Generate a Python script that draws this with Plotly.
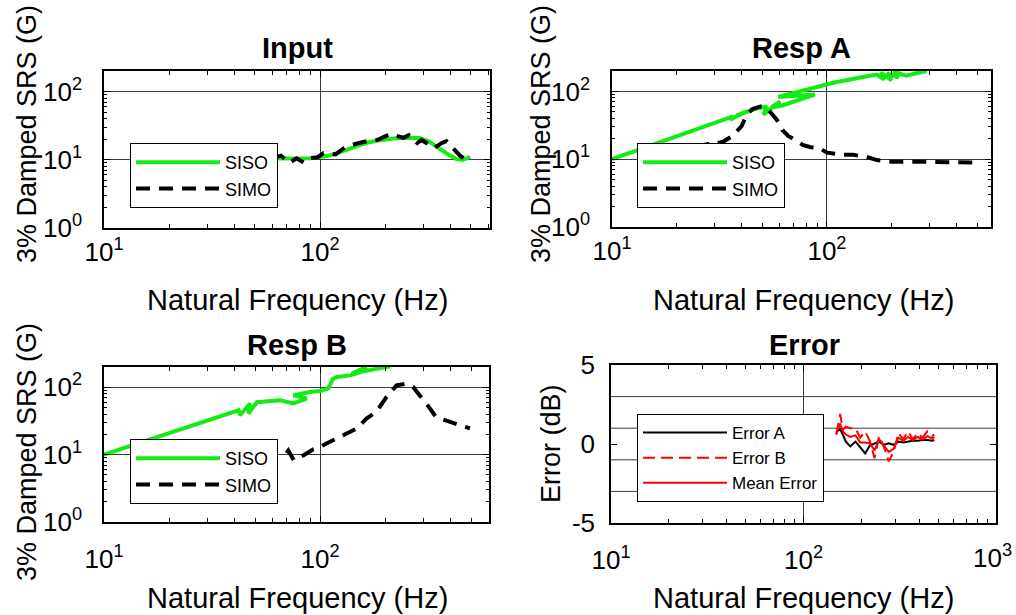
import plotly.graph_objects as go

W, H = 1016, 615

# ---------------- data ----------------
input_freq_siso = [60, 65, 72, 81, 90, 100, 110, 120, 135, 150, 165, 185, 205, 230, 260, 290, 320, 345, 370, 400, 430, 460, 495]
input_siso = [10.4, 10.4, 10.5, 10.6, 10.5, 11.0, 11.5, 12.5, 14.2, 16.0, 17.8, 19.2, 20.2, 20.8, 21.0, 20.8, 18.5, 16.0, 13.5, 11.5, 10.2, 10.0, 11.0]

input_freq_simo = [60, 66, 72, 78, 84, 90, 97, 104, 112, 118, 128, 137, 150, 162, 172, 185, 200, 212, 225, 243, 258, 270, 282, 295, 312, 325, 338, 350, 365, 385, 400, 420, 445, 465, 480]
input_simo = [10.5, 11.5, 9.0, 10.5, 9.1, 10.6, 10.8, 12.5, 12.3, 12.0, 14.5, 16.0, 17.5, 18.8, 19.3, 19.6, 22.0, 24.0, 22.5, 21.0, 23.0, 20.0, 17.6, 19.5, 17.5, 15.5, 15.0, 16.0, 17.5, 18.7, 16.5, 13.5, 11.5, 10.4, 10.2]

respA_freq_siso = [10, 36.6, 35.4, 42.3, 38, 46, 52.5, 50.6, 60.6, 55, 62, 87.9, 59.3, 86.5, 92.6, 107, 115, 128, 147, 170, 185, 178, 200, 190, 215, 205, 234, 260, 291]
respA_siso = [10, 42.9, 38.3, 50.9, 44, 55, 60, 45.3, 71, 58, 62, 90, 83, 110, 119, 134, 141, 150, 163, 177, 150, 190, 145, 185, 160, 195, 170, 185, 200]

respA_freq_simo = [15, 20, 25, 28, 30, 33, 36, 40, 42.3, 45, 49, 52, 55, 58.5, 62, 66, 71, 77, 84, 92, 100, 118, 132, 153, 171, 200, 260, 300, 350, 400, 500]
respA_simo = [12, 13.5, 15.5, 16.8, 16.8, 18.2, 21.6, 30.4, 45, 55, 60, 58, 48, 38, 27, 22, 19.3, 16.3, 15, 14.7, 12.5, 11.6, 11.6, 10.8, 9.7, 9.2, 9.2, 9.2, 8.9, 8.9, 8.9]

respB_freq_siso = [10, 41.9, 42.6, 47.4, 46.6, 51, 65.3, 75.3, 86.7, 75.3, 89.8, 100, 109, 115, 120, 138, 153, 164, 140, 175, 195, 211]
respB_siso = [10, 45.6, 38.5, 57.5, 40.7, 60, 64, 57.5, 68, 76, 85, 88, 95.6, 134.6, 142, 150, 168, 200, 160, 185, 195, 205]

respB_freq_simo = [70, 71.3, 75.6, 80, 84, 93, 100, 107, 119.6, 130, 138, 148, 164, 182, 203, 226, 251, 270, 290, 311, 344, 370, 400, 450, 494]
respB_simo = [10.5, 11.5, 8.3, 9.0, 9.8, 12.0, 13.0, 14.6, 17.4, 19.5, 21.8, 24.5, 34.3, 43, 71.6, 107, 113, 101, 75, 57, 36.3, 33, 30.6, 27, 24.5]

err_freq = [148, 155, 160, 166, 175, 186, 197, 209, 221, 234, 247, 262, 277, 294, 311, 330, 349, 370, 392, 415, 440, 466, 478]
error_a = [0.75, 0.95, 0.6, 0.15, -0.15, 0.15, -0.2, -0.6, -0.1, 0.05, 0.15, -0.05, 0.05, -0.05, 0.15, 0.1, 0.15, 0.2, 0.2, 0.25, 0.25, 0.2, 0.25]
error_b = [0.6, 1.9, 0.9, 1.1, 1.0, 1.0, 0.4, 0.8, 0.2, -0.9, 0.5, -0.2, -1.1, -0.5, 0.7, 0.3, 0.8, 0.3, 0.7, 0.4, 0.8, 0.5, 0.6]
mean_error = [0.6, 1.3, 0.8, 0.6, 0.45, 0.55, 0.1, 0.1, 0.05, -0.4, 0.3, -0.1, -0.5, -0.3, 0.4, 0.2, 0.45, 0.25, 0.45, 0.3, 0.5, 0.35, 0.45]

tol_levels = [-3, -1, 1, 3]

srs_tickvals = [1, 10, 100]
srs_ticktext = ["10<sup>0</sup>", "10<sup>1</sup>", "10<sup>2</sup>"]

# ---------------- styling ----------------
FONT = "Arial, Liberation Sans, sans-serif"
GREEN = "rgb(20,235,20)"
GRID = "#3a3a3a"
TICKSIZE = 26


def fx(p):
    return p / W


def fy(p):
    return 1 - p / H


fig = go.Figure()

def add(x, y, name, color, width, dash, xa, ya, leg, show=True):
    fig.add_trace(go.Scatter(x=x, y=y, mode="lines", name=name,
                             line=dict(color=color, width=width, dash=dash),
                             xaxis=xa, yaxis=ya, legend=leg, showlegend=show))

SIMO_DASH = "14px,9px"
add(input_freq_siso, input_siso, "SISO", GREEN, 4, "solid", "x", "y", "legend")
add(input_freq_simo, input_simo, "SIMO", "black", 4, SIMO_DASH, "x", "y", "legend")
add(respA_freq_siso, respA_siso, "SISO", GREEN, 4, "solid", "x2", "y2", "legend2")
add(respA_freq_simo, respA_simo, "SIMO", "black", 4, SIMO_DASH, "x2", "y2", "legend2")
add(respB_freq_siso, respB_siso, "SISO", GREEN, 4, "solid", "x3", "y3", "legend3")
add(respB_freq_simo, respB_simo, "SIMO", "black", 4, SIMO_DASH, "x3", "y3", "legend3")
add(err_freq, error_a, "Error A", "black", 2, "solid", "x4", "y4", "legend4")
add(err_freq, error_b, "Error B", "red", 2, "12px,6px", "x4", "y4", "legend4")
add(err_freq, mean_error, "Mean Error", "red", 2, "solid", "x4", "y4", "legend4")

minor_x = [20, 30, 40, 50, 60, 70, 80, 90, 200, 300, 400, 500, 600, 700, 800, 900]
minor_y = [2, 3, 4, 5, 6, 7, 8, 9, 20, 30, 40, 50, 60, 70, 80, 90, 200]


def axis_common():
    return dict(showline=True, linecolor="black", linewidth=1.5, mirror="allticks",
                ticks="inside", ticklen=6, tickwidth=1, tickcolor="black",
                tickfont=dict(family=FONT, size=TICKSIZE, color="black"),
                zeroline=False, gridcolor=GRID, gridwidth=1, ticklabeloverflow="allow")


panels = {
    "": dict(dx=(104, 490), dy=(71, 228), xmax=2.787, xstand=0),
    "2": dict(dx=(612, 991), dy=(71, 227), xmax=2.763, xstand=0),
    "3": dict(dx=(104, 489), dy=(367, 522), xmax=2.782, xstand=13),
}
layout_axes = {}
for k, p in panels.items():
    xa = axis_common()
    xa.update(type="log", range=[1, p["xmax"]], domain=[fx(p["dx"][0]), fx(p["dx"][1])],
              tickvals=[10, 100], ticktext=["10<sup>1</sup>", "10<sup>2</sup>"], showgrid=True,
              anchor="y" + k, ticklabelstandoff=p["xstand"],
              minor=dict(tickvals=minor_x, ticks="inside", ticklen=4, tickcolor="black", showgrid=False))
    ya = axis_common()
    ya.update(type="log", range=[0, 2.301], domain=[fy(p["dy"][1]), fy(p["dy"][0])],
              tickvals=srs_tickvals, ticktext=srs_ticktext, showgrid=True,
              anchor="x" + k, ticklabelstandoff=15,
              minor=dict(tickvals=minor_y, ticks="inside", ticklen=3, tickcolor="black", showgrid=False))
    layout_axes["xaxis" + k] = xa
    layout_axes["yaxis" + k] = ya

xa = axis_common()
xa.update(type="log", range=[1, 3], domain=[fx(611), fx(996)], tickvals=[10, 100, 1000],
          ticktext=["10<sup>1</sup>", "10<sup>2</sup>", ""], showgrid=True, anchor="y4",
          ticklabelstandoff=13,
          minor=dict(tickvals=minor_x, ticks="inside", ticklen=4, tickcolor="black", showgrid=False))
ya = axis_common()
ya.update(type="linear", range=[-5, 5], domain=[fy(523), fy(365)], tickvals=[-5, 0, 5],
          ticktext=["-5", "0", "5"], showgrid=False, anchor="x4", ticklabelstandoff=9)
layout_axes["xaxis4"] = xa
layout_axes["yaxis4"] = ya

for lvl in tol_levels:
    fig.add_shape(type="line", xref="x4 domain", x0=0, x1=1, yref="y4", y0=lvl, y1=lvl,
                  line=dict(color=GRID, width=1), layer="below")


def legend_at(left, top, size, iw):
    return dict(x=fx(left), y=fy(top), xanchor="left", yanchor="top", xref="paper", yref="paper",
                bgcolor="white", bordercolor="black", borderwidth=1, itemwidth=iw,
                font=dict(family=FONT, size=size, color="black"), tracegroupgap=0)


annotations = []

def text(s, x, y, size, bold=False, angle=0):
    if bold:
        s = "<b>" + s + "</b>"
    annotations.append(dict(text=s, x=fx(x), y=fy(y), xref="paper", yref="paper",
                            xanchor="center", yanchor="middle", showarrow=False, textangle=angle,
                            font=dict(family=FONT, size=size, color="black")))

text("Input", 297, 48, 29, bold=True)
text("Resp A", 801, 48, 29, bold=True)
text("Resp B", 297, 345, 29, bold=True)
text("Error", 804, 345, 29, bold=True)
text("Natural Frequency (Hz)", 297, 300, 29)
text("Natural Frequency (Hz)", 803, 300, 29)
text("Natural Frequency (Hz)", 297, 598, 29)
text("Natural Frequency (Hz)", 803, 598, 29)
text("3% Damped SRS (G)", 27, 134, 27, angle=-90)
text("3% Damped SRS (G)", 541, 134, 27, angle=-90)
text("3% Damped SRS (G)", 27, 452, 27, angle=-90)
text("Error (dB)", 551, 444, 27, angle=-90)
# last tick label of the Error x axis, pulled in so it is not cut by the page edge
text("10<sup>3</sup>", 992, 556, TICKSIZE)

fig.update_layout(
    width=W, height=H, margin=dict(l=0, r=0, t=0, b=0, autoexpand=False),
    paper_bgcolor="white", plot_bgcolor="white",
    font=dict(family=FONT, color="black"),
    legend=legend_at(130, 143, 18, 84),
    legend2=legend_at(637, 143, 18, 84),
    legend3=legend_at(130, 439, 18, 84),
    legend4=legend_at(637, 414, 17, 84),
    annotations=annotations,
    **layout_axes,
)

# remove the browser's default 8px body margin so the figure sits at the page origin
fig.write_html("out.html", config={"displayModeBar": False},
               post_script="document.body.style.margin='0';document.body.style.overflow='hidden';")
